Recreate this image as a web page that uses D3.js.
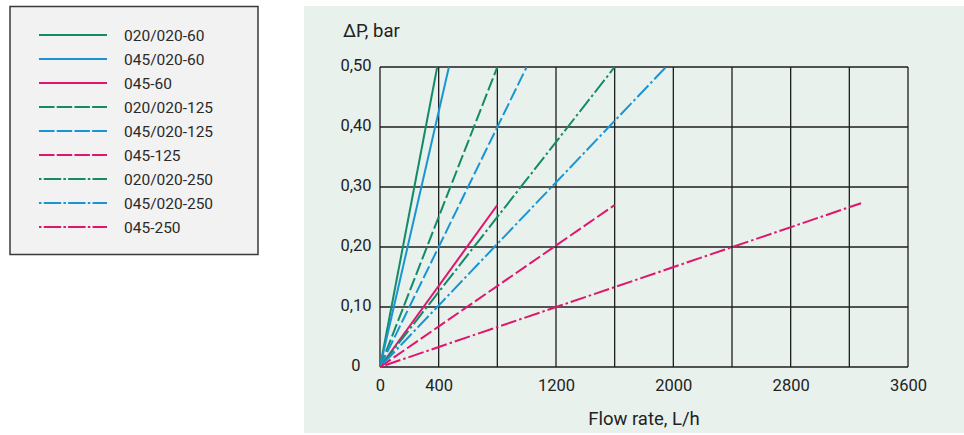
<!DOCTYPE html>
<html><head><meta charset="utf-8">
<script src="https://cdn.jsdelivr.net/npm/d3@7"></script>
<style>
html,body{margin:0;padding:0;background:#fff;}
svg{display:block;font-family:Roboto, "DejaVu Sans", sans-serif;}
</style></head>
<body>
<script>
// Data
const seriesNames = ["020/020-60","045/020-60","045-60","020/020-125","045/020-125","045-125","020/020-250","045/020-250","045-250"];
const flowStart = [0,0,0,0,0,0,0,0,0];
const dpStart   = [0,0,0,0,0,0,0,0,0];
const flowEnd   = [390,470,800,800,1000,1600,1600,1950,3280];
const dpEnd     = [0.50,0.50,0.27,0.50,0.50,0.27,0.50,0.50,0.273];
const xGridTicks = [0,400,800,1200,1600,2000,2400,2800,3200,3600];
const xTickLabels = [0,400,1200,2000,2800,3600];
const yTicks = [0,0.1,0.2,0.3,0.4,0.5];
const yTickLabels = ["0","0,10","0,20","0,30","0,40","0,50"];
const xTitle = "Flow rate, L/h";
const yTitle = "ΔP, bar";

const W=964,H=435;
const svg=d3.select("body").append("svg").attr("width",W).attr("height",H);

// styles
const colorOf = n => n.startsWith("020/020") ? "#148a69" : (n.startsWith("045/020") ? "#1a95d3" : "#e0156e");
const dashOf = n => n.endsWith("-60") ? null : (n.endsWith("-125") ? "13,3.5" : "2.5,3,16,3");

// panel background
svg.append("rect").attr("x",304).attr("y",6).attr("width",W-304).attr("height",427).attr("fill","#e8f1ec");

const x=d3.scaleLinear().domain([0,3600]).range([380,908]);
const y=d3.scaleLinear().domain([0,0.5]).range([367,67]);

// grid
const g=svg.append("g");
g.selectAll("line.v").data(xGridTicks).join("line").attr("class","v")
 .attr("x1",d=>x(d)).attr("x2",d=>x(d)).attr("y1",y(0)).attr("y2",y(0.5))
 .attr("stroke","#1e1e1e").attr("stroke-width",1.3);
g.selectAll("line.h").data(yTicks).join("line").attr("class","h")
 .attr("y1",d=>y(d)).attr("y2",d=>y(d)).attr("x1",x(0)).attr("x2",x(3600))
 .attr("stroke","#1e1e1e").attr("stroke-width",1.3);

// axes labels via d3 axis
const xAxis=d3.axisBottom(x).tickValues(xTickLabels).tickSize(0).tickPadding(12).tickFormat(d3.format("d"));
const xa=svg.append("g").attr("transform",`translate(0,${y(0)})`).call(xAxis);
xa.select(".domain").remove();
xa.selectAll("text").attr("font-size",16.5).attr("fill","#222").attr("font-family","Roboto");

const yAxis=d3.axisLeft(y).tickValues(yTicks).tickSize(0).tickPadding(0).tickFormat((d,i)=>yTickLabels[i]);
const ya=svg.append("g").attr("transform",`translate(356,0)`).call(yAxis);
ya.select(".domain").remove();
ya.selectAll("text").attr("font-size",16.5).attr("fill","#222").attr("text-anchor","middle").attr("dy","0.2em").attr("font-family","Roboto");

svg.append("text").attr("x",343).attr("y",37).text(yTitle).attr("font-size",18.5).attr("fill","#222");
svg.append("text").attr("x",644).attr("y",425).attr("text-anchor","middle").text(xTitle).attr("font-size",18.5).attr("fill","#222");

// series lines
const line=d3.line().x(d=>x(d[0])).y(d=>y(d[1]));
svg.append("clipPath").attr("id","pc").append("rect").attr("x",x(0)-2).attr("y",y(0.5)).attr("width",x(3600)-x(0)+4).attr("height",y(0)-y(0.5)+2);
svg.append("g").attr("clip-path","url(#pc)").selectAll("path").data(seriesNames).join("path")
 .attr("d",(n,i)=>line([[flowStart[i],dpStart[i]],[flowEnd[i],dpEnd[i]]]))
 .attr("fill","none").attr("stroke",n=>colorOf(n)).attr("stroke-width",2)
 .attr("stroke-dasharray",n=>dashOf(n));

// legend
svg.append("rect").attr("x",10).attr("y",6.5).attr("width",248).attr("height",248)
 .attr("fill","#f2f2f2").attr("stroke","#3a3a3a").attr("stroke-width",1.5);
const lg=svg.append("g").selectAll("g").data(seriesNames).join("g")
 .attr("transform",(d,i)=>`translate(0,${35+i*24})`);
lg.append("line").attr("x1",39).attr("x2",107).attr("y1",0).attr("y2",0)
 .attr("stroke",n=>colorOf(n)).attr("stroke-width",1.8)
 .attr("stroke-dasharray",n=>n.endsWith("-60")?null:(n.endsWith("-125")?"15.5,2.2":"2.5,2.2,17.5,2.2"));
lg.append("text").attr("x",124).attr("y",0).attr("dy","0.36em").text(n=>n)
 .attr("font-size",15.5).attr("fill","#2a2a2a");
</script>
</body></html>
